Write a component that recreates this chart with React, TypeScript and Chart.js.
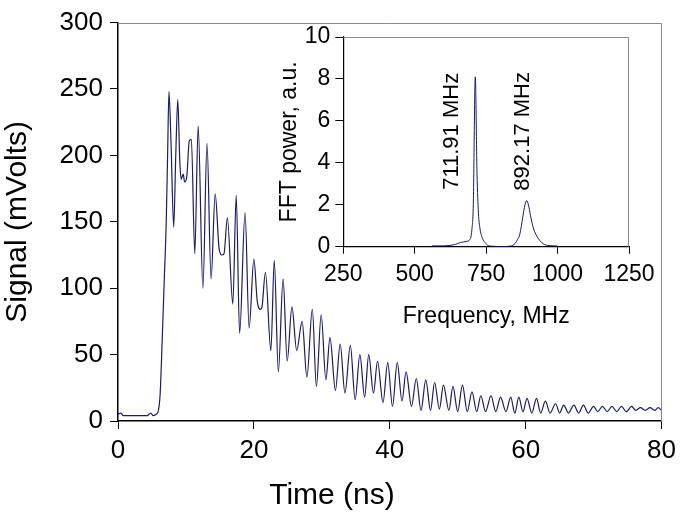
import React, { useEffect, useRef } from "react";
import { Chart, registerables } from "chart.js";

Chart.register(...registerables);

// ---- Main signal (time in ns, signal in mV) ----
const timeNs = [
  0, 0.4, 0.8, 1.5, 2.5, 3.5, 4.3, 4.8, 5.2, 5.6, 5.9, 6.2, 6.5, 6.8, 7.1, 7.3, 7.5, 7.8, 8.2, 8.5,
  8.8, 9.1, 9.3, 9.6, 9.8, 10.1, 10.5, 10.8, 11.3, 11.8, 12.5, 13.1, 13.7, 14.3, 14.9, 15.3, 15.6, 16.1, 16.9, 17.4,
  17.9, 18.7, 19.3, 20.0, 20.5, 21.0, 21.2, 21.7, 22.5, 23.0, 23.6, 24.3, 24.9, 25.6, 26.3, 27.1, 27.8, 28.6, 29.2, 29.9,
  30.6, 31.2, 32.0, 32.7, 33.4, 34.2, 34.9, 35.6, 36.3, 36.9, 37.6, 38.2, 39.0, 39.7, 40.4, 41.1, 41.8, 42.4, 43.2, 43.9,
  44.6, 45.3, 46.0, 46.6, 47.3, 47.9, 48.7, 49.3, 50.0, 50.7, 51.4, 52.1, 52.8, 53.4, 54.1, 54.9, 55.6, 56.3, 57.1, 57.8,
  58.4, 59.0, 59.6, 60.2, 60.9, 61.6, 62.2, 62.9, 63.6, 64.4, 65.0, 65.6, 66.3, 67.1, 67.8, 68.5, 69.2, 70.0, 70.6, 71.3,
  72.0, 72.7, 73.4, 74.1, 74.8, 75.6, 76.2, 76.9, 77.6, 78.3, 79.0, 79.5, 80.0,
];
const signalMv = [
  5, 6, 4, 4, 4, 4, 4, 6, 4, 5, 7, 20, 60, 105, 150, 200, 248, 210, 146, 200,
  242, 195, 182, 186, 180, 183, 211, 212, 126, 222, 100, 209, 107, 171, 129, 125, 126, 153, 88, 170,
  66, 157, 70, 122, 90, 84, 86, 112, 53, 121, 37, 107, 45, 86, 53, 75, 33, 84, 26, 80,
  31, 63, 23, 58, 21, 57, 16, 50, 18, 50, 21, 45, 14, 44, 11, 44, 15, 37, 11, 32,
  8, 31, 8, 29, 9, 27, 8, 26, 7, 27, 7, 22, 7, 19, 7, 19, 7, 18, 7, 18,
  6, 18, 7, 17, 6, 17, 6, 15, 6, 13, 6, 12, 6, 12, 6, 12, 6, 11, 7, 11,
  7, 11, 7, 11, 7, 11, 8, 10, 8, 10, 8, 10, 8,
];

// ---- Inset FFT (frequency in MHz, power in a.u.) ----
const freqMHz = [
  560, 600, 640, 660, 680, 693, 700, 705, 712, 718, 723, 728, 737, 746, 757, 775, 800,
  835, 851, 860, 868, 878, 886, 892, 898, 905, 915, 932, 955, 975, 1000,
];
const fftPower = [
  0.04, 0.04, 0.1, 0.2, 0.25, 0.35, 0.8, 2.0, 8.1, 3.5, 1.6, 0.9, 0.4, 0.2, 0.05, 0.02, 0,
  0.03, 0.15, 0.35, 0.6, 1.4, 2.0, 2.2, 2.0, 1.5, 0.9, 0.4, 0.1, 0.05, 0.03,
];
const peakLabels = ["711.91 MHz", "892.17 MHz"];
const peakLabelFreq = [630, 878];
const peakLabelPower = [5.5, 5.5];

const FONT = "Arial, 'Liberation Sans', Helvetica, sans-serif";
const LINE_COLOR = "#1a1a6e";

const frameBorder = {
  id: "frameBorder",
  afterDatasetsDraw(chart: any) {
    const { ctx, chartArea: a } = chart;
    ctx.save();
    ctx.strokeStyle = "#8a8a8a";
    ctx.lineWidth = 1;
    ctx.beginPath();
    ctx.moveTo(a.left, Math.round(a.top) + 0.5);
    ctx.lineTo(Math.round(a.right) - 0.5, Math.round(a.top) + 0.5);
    ctx.lineTo(Math.round(a.right) - 0.5, a.bottom);
    ctx.stroke();
    ctx.restore();
  },
};

const peakLabelPlugin = {
  id: "peakLabelPlugin",
  afterDatasetsDraw(chart: any) {
    const { ctx, scales } = chart;
    ctx.save();
    ctx.font = `22px ${FONT}`;
    ctx.fillStyle = "#000";
    ctx.textAlign = "center";
    ctx.textBaseline = "middle";
    peakLabels.forEach((txt, i) => {
      const px = scales.x.getPixelForValue(peakLabelFreq[i]);
      const py = scales.y.getPixelForValue(peakLabelPower[i]);
      ctx.save();
      ctx.translate(px, py);
      ctx.rotate(-Math.PI / 2);
      ctx.fillText(txt, 0, 0);
      ctx.restore();
    });
    ctx.restore();
  },
};

const plainTick = (v: any) => String(v);

export default function App() {
  const mainRef = useRef<HTMLCanvasElement>(null);
  const insetRef = useRef<HTMLCanvasElement>(null);

  useEffect(() => {
    const mainChart = new Chart(mainRef.current as HTMLCanvasElement, {
      type: "line",
      data: {
        datasets: [
          {
            data: timeNs.map((t, i) => ({ x: t, y: signalMv[i] })),
            borderColor: LINE_COLOR,
            borderWidth: 1.2,
            pointRadius: 0,
            cubicInterpolationMode: "monotone",
            fill: false,
          },
        ],
      },
      options: {
        animation: false,
        responsive: false,
        maintainAspectRatio: false,
        layout: { padding: { left: 0, top: 18, right: 18, bottom: 0 } },
        plugins: {
          legend: { display: false },
          tooltip: { enabled: false },
          title: {
            display: true,
            text: "Time (ns)",
            position: "bottom",
            color: "#000",
            font: { family: FONT, size: 30, weight: "normal" },
            padding: { top: 0, bottom: 2 },
          },
        },
        scales: {
          x: {
            type: "linear",
            min: 0,
            max: 80,
            ticks: {
              stepSize: 20,
              color: "#000",
              font: { family: FONT, size: 26 },
              padding: 6,
              maxRotation: 0,
              callback: plainTick,
            },
            grid: { drawOnChartArea: false, drawTicks: true, tickLength: 8, color: "#000" },
            border: { color: "#000", width: 1.5 },
            afterFit: (s: any) => {
              s.height = 57;
            },
          },
          y: {
            type: "linear",
            min: 0,
            max: 300,
            ticks: {
              stepSize: 50,
              color: "#000",
              font: { family: FONT, size: 26 },
              padding: 7,
              callback: plainTick,
            },
            grid: { drawOnChartArea: false, drawTicks: true, tickLength: 8, color: "#000" },
            border: { color: "#000", width: 1.5 },
            title: {
              display: true,
              text: "Signal (mVolts)",
              color: "#000",
              font: { family: FONT, size: 30 },
              padding: { top: 0, bottom: 0 },
            },
            afterFit: (s: any) => {
              s.width = 118;
            },
          },
        },
      },
      plugins: [frameBorder],
    } as any);

    const insetChart = new Chart(insetRef.current as HTMLCanvasElement, {
      type: "line",
      data: {
        datasets: [
          {
            data: freqMHz.map((f, i) => ({ x: f, y: fftPower[i] })),
            borderColor: LINE_COLOR,
            borderWidth: 1,
            pointRadius: 0,
            cubicInterpolationMode: "monotone",
            fill: false,
          },
        ],
      },
      options: {
        animation: false,
        responsive: false,
        maintainAspectRatio: false,
        layout: { padding: { left: 0, top: 37, right: 53, bottom: 0 } },
        plugins: {
          legend: { display: false },
          tooltip: { enabled: false },
        },
        scales: {
          x: {
            type: "linear",
            min: 250,
            max: 1250,
            ticks: {
              stepSize: 250,
              color: "#000",
              font: { family: FONT, size: 23 },
              padding: 7,
              maxRotation: 0,
              callback: plainTick,
            },
            grid: { drawOnChartArea: false, drawTicks: true, tickLength: 7, color: "#000" },
            border: { color: "#000", width: 1.2 },
            title: {
              display: true,
              text: "Frequency, MHz",
              color: "#000",
              font: { family: FONT, size: 23 },
              padding: { top: 0, bottom: 10 },
            },
            afterFit: (s: any) => {
              s.height = 93.3;
            },
          },
          y: {
            type: "linear",
            min: 0,
            max: 10,
            ticks: {
              stepSize: 2,
              color: "#000",
              font: { family: FONT, size: 23 },
              padding: 5,
              callback: plainTick,
            },
            grid: { drawOnChartArea: false, drawTicks: true, tickLength: 8, color: "#000" },
            border: { color: "#000", width: 1.2 },
            title: {
              display: true,
              text: "FFT power, a.u.",
              color: "#000",
              font: { family: FONT, size: 23 },
              padding: { top: 26, bottom: 0 },
            },
            afterFit: (s: any) => {
              s.width = 93.3;
            },
          },
        },
      },
      plugins: [frameBorder, peakLabelPlugin],
    } as any);

    return () => {
      mainChart.destroy();
      insetChart.destroy();
    };
  }, []);

  return (
    <div
      style={{
        position: "absolute",
        left: 0,
        top: 0,
        width: 682,
        height: 516,
        background: "#fff",
      }}
    >
      <canvas
        ref={mainRef}
        width={682}
        height={516}
        style={{ position: "absolute", left: 0, top: 0, width: 682, height: 516 }}
      />
      <canvas
        ref={insetRef}
        width={432}
        height={340}
        style={{ position: "absolute", left: 250, top: 0, width: 432, height: 340 }}
      />
    </div>
  );
}
